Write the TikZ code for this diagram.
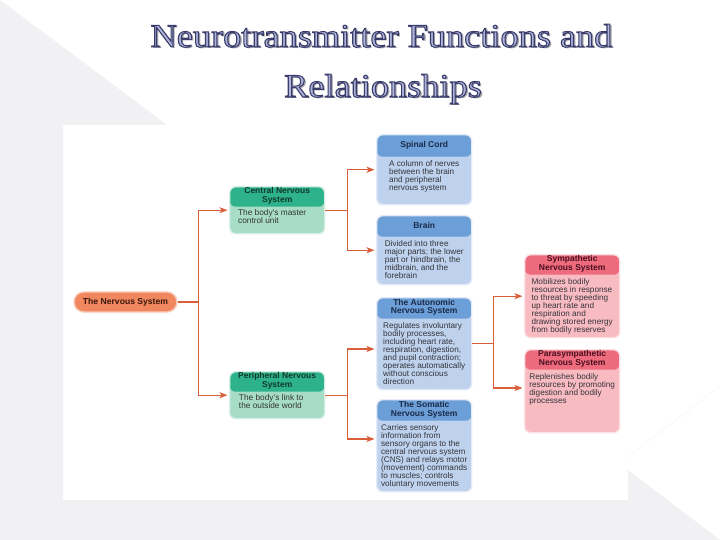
\documentclass[tikz,border=0pt]{standalone}
\usepackage{fontspec}
\setmainfont{Liberation Sans}
\newfontfamily\titlefont{Liberation Serif}
\usetikzlibrary{arrows.meta,calc}
\definecolor{bggray}{HTML}{F1F1F3}
\definecolor{conncol}{HTML}{D95E3A}
\definecolor{pillcol}{HTML}{F1875E}
\definecolor{pilltxt}{HTML}{3A170C}
\definecolor{greenh}{HTML}{2DB28B}
\definecolor{greenb}{HTML}{A7DCC6}
\definecolor{greent}{HTML}{0F3A2C}
\definecolor{blueh}{HTML}{6C9FD8}
\definecolor{blueb}{HTML}{BED2EE}
\definecolor{bluet}{HTML}{1A2A48}
\definecolor{redh}{HTML}{EE6A7D}
\definecolor{redb}{HTML}{F8BBC2}
\definecolor{redt}{HTML}{4A1020}
\definecolor{bodytxtcol}{HTML}{343438}
\definecolor{titlefillc}{HTML}{AFB4D8}
\definecolor{titleshad}{HTML}{A3A3AB}
\newcommand\myoutlined[1]{{\color{titlefillc}\special{pdf:literal direct 2 Tr 1 w 0.224 0.235 0.416 RG}#1\special{pdf:literal direct 0 Tr}}}
\begin{document}
\begin{tikzpicture}[x=1pt,y=-1pt,
  titlebase/.style={anchor=base, inner sep=0pt, font=\titlefont\fontsize{33}{36}\selectfont},
  box/.style={rectangle, rounded corners=6pt, minimum width=95pt, anchor=north west, inner sep=0pt, line width=1.4pt},
  hdr/.style 2 args={path picture={\fill[#1] ([yshift=2pt]path picture bounding box.north west) rectangle ([yshift=-#2 pt]path picture bounding box.north east);}},
  hdrtxt/.style={inner sep=0pt, align=center, font=\bfseries\fontsize{8.5}{8.6}\selectfont},
  bodytxt/.style={inner sep=0pt, align=left, anchor=north, text=bodytxtcol, font=\fontsize{8.2}{8}\selectfont},
  gbodytxt/.style={bodytxt, font=\fontsize{8.3}{8.3}\selectfont},
  conn/.style={draw=conncol, line width=1.2pt},
  arr/.style={conn, -{Stealth[length=8pt, width=6pt, inset=2pt]}, shorten >=1.5pt}
]
\useasboundingbox (0,0) rectangle (720,540);
% background
\fill[white] (0,0) rectangle (720,540);
\fill[bggray] (0,0) -- (167,125) -- (63,125) -- (63,500) -- (628,500) -- (628,470) -- (720,540) -- (0,540) -- cycle;
\draw[white!94!gray, line width=0.6pt] (628,457) -- (720,386);
% title
\node[titlebase, text=titleshad] (t1s) at (383.3,48.8) {\scalebox{1.1}[1]{Neurotransmitter Functions and}};
\node[titlebase] (t1) at (381.5,47) {\myoutlined{\scalebox{1.1}[1]{Neurotransmitter Functions and}}};
\node[titlebase, text=titleshad] (t2s) at (384.8,98.8) {\scalebox{1.1}[1]{Relationships}};
\node[titlebase] (t2) at (383,97) {\myoutlined{\scalebox{1.1}[1]{Relationships}}};
% root pill
\node[rectangle, rounded corners=10pt, fill=pillcol, draw=pillcol!45!white, line width=1.4pt,
  minimum width=103pt, minimum height=20pt, inner sep=0pt, text=pilltxt,
  font=\bfseries\fontsize{8.6}{9}\selectfont] (ns) at (125.5,302) {The Nervous System};
% green boxes
\node[box, fill=greenb, draw=greenb!45!white, minimum height=47pt, hdr={greenh}{20}] (cns) at (229,186) {};
\node[hdrtxt, text=greent] (cnsh) at ($(cns.north)+(0,10)$) {Central Nervous\\System};
\node[gbodytxt] (cnsb) at ($(cns.north)+(-5,23)$) {The body’s master\\control unit};
\node[box, fill=greenb, draw=greenb!45!white, minimum height=47pt, hdr={greenh}{20}] (pns) at (229,371) {};
\node[hdrtxt, text=greent] (pnsh) at ($(pns.north)+(0,10)$) {Peripheral Nervous\\System};
\node[gbodytxt] (pnsb) at ($(pns.north)+(-6,23)$) {The body’s link to\\the outside world};
% blue boxes
\node[box, fill=blueb, draw=blueb!45!white, minimum height=70pt, hdr={blueh}{22}] (spinal) at (376,134) {};
\node[hdrtxt, text=bluet] (spinalh) at ($(spinal.north)+(0,11)$) {Spinal Cord};
\node[bodytxt] (spinalb) at ($(spinal.north)+(0,26)$) {A column of nerves\\between the brain\\and peripheral\\nervous system};
\node[box, fill=blueb, draw=blueb!45!white, minimum height=69pt, hdr={blueh}{21}] (brain) at (376,215) {};
\node[hdrtxt, text=bluet] (brainh) at ($(brain.north)+(0,10.5)$) {Brain};
\node[bodytxt] (brainb) at ($(brain.north)+(0,25)$) {Divided into three\\major parts; the lower\\part or hindbrain, the\\midbrain, and the\\forebrain};
\node[box, fill=blueb, draw=blueb!45!white, minimum height=92pt, hdr={blueh}{21}] (auto) at (376,297) {};
\node[hdrtxt, text=bluet] (autoh) at ($(auto.north)+(0,10.5)$) {The Autonomic\\Nervous System};
\node[bodytxt] (autob) at ($(auto.north)+(0,25)$) {Regulates involuntary\\bodily processes,\\including heart rate,\\respiration, digestion,\\and pupil contraction;\\operates automatically\\without conscious\\direction};
\node[box, fill=blueb, draw=blueb!45!white, minimum height=92pt, hdr={blueh}{21}] (soma) at (376,399) {};
\node[hdrtxt, text=bluet] (somah) at ($(soma.north)+(0,10.5)$) {The Somatic\\Nervous System};
\node[bodytxt] (somab) at ($(soma.north)+(0,25)$) {Carries sensory\\information from\\sensory organs to the\\central nervous system\\(CNS) and relays motor\\(movement) commands\\to muscles; controls\\voluntary movements};
% red boxes
\node[box, fill=redb, draw=redb!45!white, minimum height=83pt, hdr={redh}{20}] (symp) at (524,254) {};
\node[hdrtxt, text=redt] (symph) at ($(symp.north)+(0,10)$) {Sympathetic\\Nervous System};
\node[bodytxt] (sympb) at ($(symp.north)+(0,24)$) {Mobilizes bodily\\resources in response\\to threat by speeding\\up heart rate and\\respiration and\\drawing stored energy\\from bodily reserves};
\node[box, fill=redb, draw=redb!45!white, minimum height=83pt, hdr={redh}{20}] (para) at (524,349) {};
\node[hdrtxt, text=redt] (parah) at ($(para.north)+(0,10)$) {Parasympathetic\\Nervous System};
\node[bodytxt] (parab) at ($(para.north)+(0,24)$) {Replenishes bodily\\resources by promoting\\digestion and bodily\\processes};
% connectors
\draw[conn] (ns.east) -- ++(21,0) coordinate (j1);
\draw[arr] (j1) |- (cns.west);
\draw[arr] (j1) |- (pns.west);
\draw[conn] (cns.east) -- ++(22,0) coordinate (j2);
\draw[arr] (j2) |- (spinal.west);
\draw[arr] (j2) |- (brain.west);
\draw[conn] (pns.east) -- ++(22,0) coordinate (j3);
\coordinate (autoin) at (auto.west |- 0,349);
\coordinate (somain) at (soma.west |- 0,439);
\draw[arr] (j3) |- (autoin);
\draw[arr] (j3) |- (somain);
\draw[conn] (auto.east) -- ++(21,0) coordinate (j4);
\coordinate (parain) at (para.west |- 0,388);
\draw[arr] (j4) |- (symp.west);
\draw[arr] (j4) |- (parain);
\end{tikzpicture}
\end{document}
